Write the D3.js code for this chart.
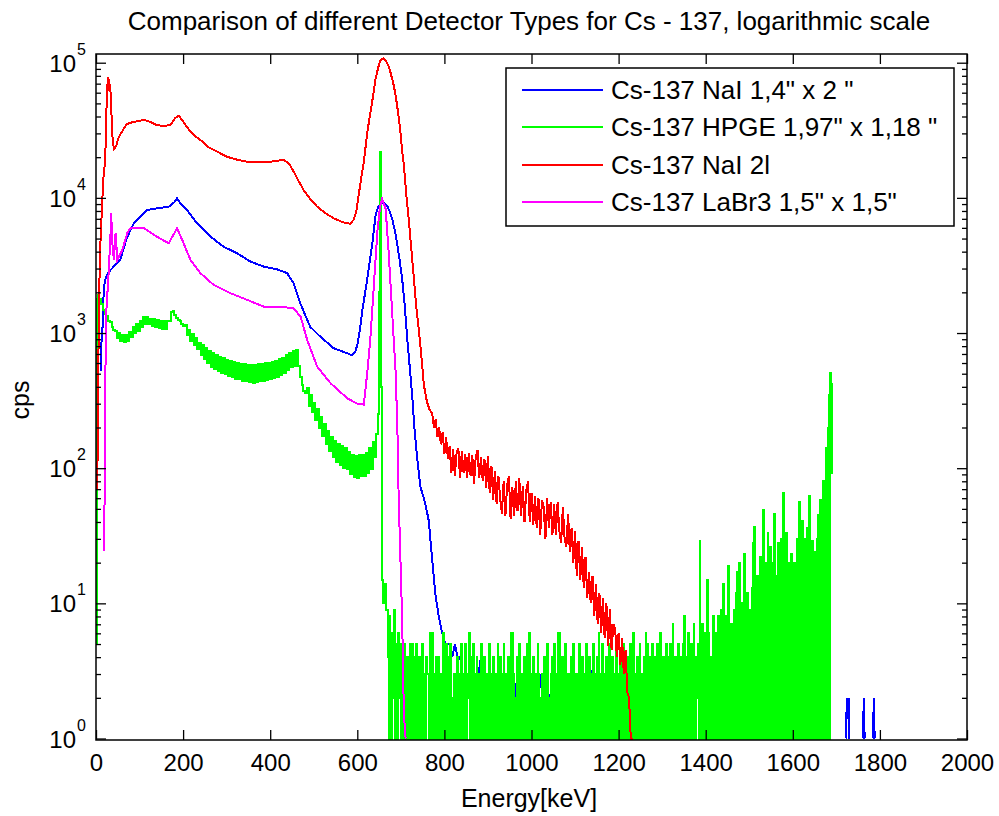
<!DOCTYPE html>
<html>
<head>
<meta charset="utf-8">
<script src="https://cdn.jsdelivr.net/npm/d3@7"></script>
<style>
  body { margin: 0; background: #ffffff; }
  text { font-family: "Liberation Sans", Arial, sans-serif; fill: #000; }
</style>
</head>
<body>
<div id="wrapper"></div>
<script>
// values (energy in keV, cps)
const seriesNames = ['Cs-137 NaI 1,4" x 2 "', 'Cs-137 HPGE 1,97" x 1,18 "', 'Cs-137 NaI 2l', 'Cs-137 LaBr3 1,5" x 1,5"'];
const xTicks = [0, 200, 400, 600, 800, 1000, 1200, 1400, 1600, 1800, 2000];
const yExponents = [0, 1, 2, 3, 4, 5];

// NaI 1,4" x 2"
const blueE = [9, 11.5, 13, 15, 17, 20, 25, 33, 45, 56, 64, 72, 87, 102, 117, 140, 167, 180, 186, 195, 209, 232, 263, 293, 324, 355, 385, 416, 439, 454, 469, 492, 515, 546, 577, 588, 595, 600, 606, 611, 617, 623, 628, 634, 642, 648, 653, 660, 668, 674, 680, 686, 691, 697, 703, 709, 714, 720, 726, 731, 737, 745, 756, 764, 772, 779, 787, 795, 802];
const blueCps = [530, 530, 1000, 1100, 1800, 2400, 2700, 2920, 3200, 3500, 4300, 5160, 6490, 7260, 8130, 8370, 8600, 9300, 9930, 9000, 8130, 6490, 5160, 4350, 3890, 3370, 3100, 2960, 2770, 2330, 1660, 1110, 940, 771, 708, 684, 720, 815, 1050, 1430, 1900, 2520, 3300, 4460, 7430, 8600, 9060, 9200, 8800, 8000, 7000, 5800, 4710, 3500, 2520, 1600, 962, 580, 346, 200, 122, 73, 55, 41, 21, 11.9, 8, 6, 5];
const blueTailStart = 806, blueTailStep = 6;
const blueTail = [5, 5, 4, 5, 4, 4, 3, 3, 2, 3, 3, 2, 3, 4, 2, 3, 3, 2, 3, 2,
  3, 2, 3, 3, 2, 3, 2, 3, 2, 2, 3, 2, 2, 3, 2, 2, 3, 2, 3, 2,
  2, 3, 2, 2, 3, 2, 2, 3, 2, 2, 2, 3, 2, 1, 4, 2, 4, 2, 3, 1,
  2, 2, 1, 2, 1, 3, 2, 0, 2, 1, 1, 2, 3, 1, 2, 1, 0, 2, 1, 3,
  1, 0, 2, 1, 0, 1, 2, 0, 4, 0, 2, 0, 1, 0, 0, 1, 0, 0, 0, 0];
const blueEndE = [1722, 1724, 1726, 1728, 1730, 1745, 1761, 1763, 1765, 1775, 1784, 1786, 1788];
const blueEndCps = [1, 2, 1.4, 2, 1, 0, 1, 2, 1, 0, 1, 2, 1];

// HPGE 1,97" x 1,18"
const greenHeadE = [0.5, 2];
const greenHeadCps = [5, 1800];
const greenMainStart = 4, greenMainStep = 4;
const greenMain = [1900, 1780, 1650, 1480, 1380, 1330, 1230, 1200, 1100, 1060,
  1030, 920, 1000, 880, 970, 860, 960, 880, 1010, 930,
  1110, 1000, 1160, 1040, 1230, 1100, 1310, 1170, 1320, 1160,
  1270, 1120, 1260, 1100, 1240, 1090, 1230, 1080, 1220, 1070,
  1220, 1230, 1420, 1460, 1370, 1300, 1250, 1220, 1160, 1120,
  1150, 970, 1060, 880, 990, 810, 920, 760, 850, 690,
  810, 640, 770, 600, 740, 565, 710, 545, 690, 525,
  670, 510, 650, 495, 630, 480, 620, 470, 610, 460,
  605, 455, 595, 445, 590, 440, 585, 435, 580, 430,
  585, 435, 590, 440, 590, 445, 600, 450, 605, 455,
  615, 465, 625, 475, 645, 490, 655, 510, 690, 530,
  710, 560, 735, 575, 750, 570, 470, 410, 370, 360,
  390, 290, 350, 260, 305, 228, 272, 200, 238, 172,
  212, 150, 190, 134, 170, 122, 158, 112, 150, 106,
  145, 100, 140, 98, 132, 90, 126, 86, 124, 85,
  126, 87, 125, 88, 130, 92, 140, 98, 156, 122,
  180, 250];
const greenPeakE = [650.5, 652, 653.5, 655, 656.5, 659, 661.5];
const greenPeakCps = [2000, 22000, 18000, 400, 15, 10, 12];
const greenTailStart = 664, greenTailStep = 2;
const greenTail = [14, 9, 9, 4, 1, 8, 3, 1, 6, 2, 9, 1, 5, 3, 1, 6, 2, 5, 1, 4,
  3, 1, 5, 2, 1, 4, 3, 1, 5, 1, 3, 5, 1, 4, 1, 5, 3, 1, 2, 4,
  1, 3, 5, 1, 2, 3, 1, 4, 3, 3, 1, 6, 1, 2, 6, 1, 3, 1, 4, 2,
  1, 4, 1, 3, 2, 1, 6, 3, 1, 2, 5, 1, 4, 1, 3, 5, 1, 2, 1, 3,
  3, 1, 2, 4, 1, 3, 1, 5, 2, 1, 3, 1, 5, 1, 2, 3, 6, 1, 4, 1,
  2, 5, 1, 3, 1, 4, 2, 1, 3, 1, 5, 3, 1, 2, 4, 1, 3, 1, 2, 5,
  1, 3, 2, 1, 4, 1, 3, 3, 1, 5, 1, 2, 4, 1, 3, 1, 5, 2, 1, 3,
  1, 4, 2, 1, 6, 1, 6, 3, 1, 2, 1, 4, 3, 1, 5, 2, 1, 3, 1, 4,
  2, 1, 3, 5, 1, 6, 1, 2, 3, 1, 4, 1, 3, 2, 1, 5, 3, 1, 2, 1,
  3, 1, 4, 2, 1, 3, 5, 1, 2, 1, 3, 4, 1, 2, 5, 1, 3, 1, 6, 1,
  6, 1, 2, 4, 1, 3, 1, 5, 2, 1, 3, 3, 1, 4, 1, 2, 5, 1, 3, 1,
  2, 3, 1, 5, 1, 2, 4, 1, 3, 1, 2, 5, 1, 3, 4, 1, 2, 1, 3, 5,
  1, 3, 1, 4, 2, 6, 1, 3, 1, 5, 2, 1, 3, 1, 4, 2, 1, 5, 3, 1,
  4, 1, 2, 3, 1, 5, 1, 3, 2, 1, 4, 3, 1, 5, 1, 2, 3, 1, 4, 2,
  1, 5, 3, 1, 2, 6, 1, 3, 1, 4, 2, 1, 5, 1, 3, 2, 1, 4, 1, 6,
  3, 5, 1, 2, 4, 1, 5, 3, 1, 2, 4, 1, 5, 2, 1, 3, 6, 1, 3, 4,
  1, 3, 5, 1, 4, 2, 1, 5, 3, 1, 7, 2, 1, 4, 3, 1, 5, 2, 1, 4,
  3, 1, 5, 8, 1, 4, 2, 1, 6, 3, 1, 5, 2, 1, 7, 3, 1, 4, 2, 5,
  1, 29, 3, 1, 7, 4, 1, 6, 2, 1, 15, 6, 1, 3, 4, 1, 8, 5, 1, 6,
  3, 1, 8, 5, 1, 9, 4, 1, 14, 6, 1, 8, 3, 1, 19, 7, 1, 7, 5, 1,
  9, 4, 1, 12, 17, 1, 20, 6, 1, 10, 5, 1, 23, 8, 1, 12, 6, 1, 9, 2,
  1, 13, 28, 1, 37, 10, 1, 16, 6, 1, 22, 12, 1, 15, 49, 1, 20, 8, 1, 33,
  18, 1, 26, 12, 1, 20, 46, 1, 16, 9, 1, 28, 20, 1, 14, 30, 1, 66, 24, 1,
  33, 16, 1, 12, 20, 1, 23, 9, 1, 20, 14, 1, 18, 30, 1, 56, 24, 1, 20, 41,
  1, 30, 11, 1, 36, 22, 1, 62, 25, 1, 29, 18, 1, 17, 24, 1, 30, 45, 1, 58,
  28, 1, 40, 80, 1, 60, 140, 1, 200, 350, 1, 510, 420, 90];

// NaI 2l
const redE = [3, 5, 8, 10, 14, 18, 21, 24, 26.5, 28.5, 30.5, 32.5, 35, 38, 41, 46, 52, 60, 70, 80, 95, 110, 125, 140, 160, 172, 182, 190, 198, 210, 225, 240, 260, 278, 300, 320, 347, 375, 401, 431, 443, 454, 466, 477, 492, 508, 527, 546, 562, 573, 584, 592, 598, 603, 609, 615, 623, 634, 642, 648, 653, 660, 665, 671, 676, 682, 688, 694, 699, 703, 707, 712, 718, 724, 730, 735, 741, 747, 753, 760, 766];
const redCps = [70, 500, 2500, 4500, 9000, 16000, 18000, 45000, 70000, 78000, 62000, 70000, 45000, 28000, 23000, 24000, 28000, 31000, 35000, 36000, 37000, 37700, 36500, 34500, 34000, 35000, 39000, 40500, 37500, 33000, 29000, 26800, 23500, 22000, 20200, 19300, 18500, 18500, 18500, 19100, 18000, 15600, 13200, 11400, 9800, 8600, 7700, 7060, 6700, 6500, 6450, 6900, 8000, 10400, 14000, 18400, 30700, 51000, 76000, 92000, 104000, 108000, 104000, 96000, 85000, 72000, 57400, 42000, 30700, 22000, 17500, 11000, 7000, 4200, 2520, 1600, 1080, 680, 410, 309, 270];
const redTailStart = 772, redTailStep = 4;
const redTail = [255, 200, 230, 170, 200, 150, 185, 128, 170, 118,
  145, 92, 138, 88, 130, 140, 84, 134, 92, 128,
  84, 130, 88, 126, 76, 122, 136, 84, 120, 80,
  116, 72, 124, 66, 104, 58, 96, 54, 88, 60,
  46, 80, 44, 74, 88, 42, 72, 44, 80, 48,
  84, 44, 74, 40, 68, 80, 40, 66, 38, 62,
  36, 60, 32, 58, 52, 30, 60, 36, 56, 32,
  54, 32, 56, 34, 28, 52, 30, 26, 46, 24,
  36, 20, 34, 16, 29, 15, 26, 13, 22, 11,
  17, 10, 16, 8, 14, 7, 12, 6, 11, 5.5,
  10, 4.8, 9, 4.5, 7, 6.5, 4, 6, 3.5, 5.5,
  3, 4.5, 2.2, 2, 1, 1];

// LaBr3 1,5" x 1,5"
const magentaE = [17, 19, 21, 24, 29, 33, 35, 37, 41, 45, 49, 60, 72, 79, 110, 140, 167, 186, 198, 217, 240, 270, 309, 347, 385, 424, 454, 470, 485, 508, 539, 577, 600, 615, 623, 630, 638, 646, 652, 657, 665, 672, 680, 688, 692, 695, 698, 703, 707, 711];
const magentaCps = [25, 25, 400, 1500, 2780, 5000, 7700, 4880, 3470, 5500, 3470, 4100, 5500, 5960, 5960, 5160, 4610, 5960, 4880, 3470, 2770, 2270, 1970, 1760, 1570, 1570, 1520, 1320, 888, 564, 424, 329, 300, 295, 515, 908, 2250, 5590, 8500, 9860, 8300, 3980, 1430, 515, 200, 60, 28, 7.5, 1.5, 1];

function fromPairs(es, vs) {
  return es.map((e, i) => ({ e: e, v: vs[i] }));
}
function fromStep(start, step, vs) {
  return vs.map((v, i) => ({ e: start + i * step, v: v }));
}

async function drawSpectrum() {
  // dense channel data (green) is drawn as steps, like the original raster
  const series = [
    { name: seriesNames[0], color: "#0000ff", curve: d3.curveLinear,
      data: [...fromPairs(blueE, blueCps), ...fromStep(blueTailStart, blueTailStep, blueTail), ...fromPairs(blueEndE, blueEndCps)] },
    { name: seriesNames[1], color: "#00ff00", curve: d3.curveStepAfter,
      data: [...fromPairs(greenHeadE, greenHeadCps), ...fromStep(greenMainStart, greenMainStep, greenMain), ...fromPairs(greenPeakE, greenPeakCps), ...fromStep(greenTailStart, greenTailStep, greenTail)] },
    { name: seriesNames[2], color: "#ff0000", curve: d3.curveLinear,
      data: [...fromPairs(redE, redCps), ...fromStep(redTailStart, redTailStep, redTail)] },
    { name: seriesNames[3], color: "#ff00ff", curve: d3.curveLinear,
      data: fromPairs(magentaE, magentaCps) },
  ];

  let dimensions = {
    width: 999,
    height: 816,
    margin: { top: 54, right: 32, bottom: 76, left: 96 },
  };
  dimensions.boundedWidth = dimensions.width - dimensions.margin.left - dimensions.margin.right;
  dimensions.boundedHeight = dimensions.height - dimensions.margin.top - dimensions.margin.bottom;

  const svg = d3.select("#wrapper").append("svg")
    .attr("width", dimensions.width)
    .attr("height", dimensions.height);

  const bounds = svg.append("g")
    .attr("transform", `translate(${dimensions.margin.left},${dimensions.margin.top})`);

  const xScale = d3.scaleLinear()
    .domain([0, 2000])
    .range([0, dimensions.boundedWidth]);
  const yScale = d3.scaleLog()
    .domain([0.975, 1.16e5])
    .range([dimensions.boundedHeight, 0]);

  bounds.append("clipPath").attr("id", "plot-clip")
    .append("rect")
    .attr("width", dimensions.boundedWidth)
    .attr("height", dimensions.boundedHeight);

  const lines = bounds.append("g").attr("clip-path", "url(#plot-clip)");
  series.forEach(s => {
    const lineGenerator = d3.line()
      .defined(d => d.v > 0)
      .curve(s.curve)
      .x(d => xScale(d.e))
      .y(d => yScale(d.v));
    lines.append("path")
      .attr("d", lineGenerator(s.data))
      .attr("fill", "none")
      .attr("stroke", s.color)
      .attr("stroke-width", 2)
      .attr("shape-rendering", "crispEdges");
  });

  // axes, ticks pointing inward on all four sides
  const majorY = yExponents.map(k => Math.pow(10, k));
  const minorY = [];
  for (let k = 0; k < 5; k++) {
    for (let m = 2; m <= 9; m++) minorY.push(m * Math.pow(10, k));
  }

  const xAxisBottom = d3.axisBottom(xScale).tickValues(xTicks).tickSizeInner(-10).tickSizeOuter(0).tickPadding(14).tickFormat(d3.format("d"));
  const xAxisTop = d3.axisTop(xScale).tickValues(xTicks).tickSizeInner(-10).tickSizeOuter(0).tickFormat("");
  const yAxisLeft = d3.axisLeft(yScale).tickValues(majorY).tickSizeInner(-10).tickSizeOuter(0).tickFormat("");
  const yAxisRight = d3.axisRight(yScale).tickValues(majorY).tickSizeInner(-10).tickSizeOuter(0).tickFormat("");
  const yMinorLeft = d3.axisLeft(yScale).tickValues(minorY).tickSizeInner(-5).tickSizeOuter(0).tickFormat("");
  const yMinorRight = d3.axisRight(yScale).tickValues(minorY).tickSizeInner(-5).tickSizeOuter(0).tickFormat("");

  const xAxis = bounds.append("g")
    .attr("transform", `translate(0,${dimensions.boundedHeight})`)
    .call(xAxisBottom);
  xAxis.selectAll("text").attr("font-size", 24).attr("font-family", "Liberation Sans, Arial, sans-serif");
  bounds.append("g").call(xAxisTop);
  bounds.append("g").call(yAxisLeft);
  bounds.append("g").call(yMinorLeft);
  bounds.append("g").attr("transform", `translate(${dimensions.boundedWidth},0)`).call(yAxisRight);
  bounds.append("g").attr("transform", `translate(${dimensions.boundedWidth},0)`).call(yMinorRight);
  bounds.selectAll(".domain").remove();
  bounds.selectAll(".tick line").attr("stroke", "#000").attr("stroke-width", 1.3);

  bounds.append("rect")
    .attr("width", dimensions.boundedWidth)
    .attr("height", dimensions.boundedHeight)
    .attr("fill", "none")
    .attr("stroke", "#000")
    .attr("stroke-width", 1.5);

  // y tick labels as 10^k
  const yLabels = bounds.append("g");
  yExponents.forEach(k => {
    const ty = yScale(Math.pow(10, k));
    yLabels.append("text")
      .attr("x", -20)
      .attr("y", ty + 9)
      .attr("text-anchor", "end")
      .attr("font-size", 24)
      .text("10");
    yLabels.append("text")
      .attr("x", -19)
      .attr("y", ty - 8)
      .attr("font-size", 16)
      .text(k);
  });

  // title and axis labels
  svg.append("text")
    .attr("x", 529)
    .attr("y", 30)
    .attr("text-anchor", "middle")
    .attr("font-size", 26)
    .text("Comparison of different Detector Types for Cs - 137, logarithmic scale");
  svg.append("text")
    .attr("x", 529)
    .attr("y", 807)
    .attr("text-anchor", "middle")
    .attr("font-size", 25)
    .text("Energy[keV]");
  svg.append("text")
    .attr("transform", "translate(29,400) rotate(-90)")
    .attr("text-anchor", "middle")
    .attr("font-size", 25)
    .text("cps");

  // legend
  const legend = svg.append("g").attr("transform", "translate(506,68)");
  legend.append("rect")
    .attr("width", 448)
    .attr("height", 158)
    .attr("fill", "#fff")
    .attr("stroke", "#000")
    .attr("stroke-width", 1.5);
  series.forEach((s, i) => {
    const ry = 22 + i * 37.4;
    legend.append("line")
      .attr("x1", 16).attr("x2", 97)
      .attr("y1", ry).attr("y2", ry)
      .attr("stroke", s.color)
      .attr("stroke-width", 2)
      .attr("shape-rendering", "crispEdges");
    legend.append("text")
      .attr("x", 105)
      .attr("y", ry + 9)
      .attr("font-size", 26)
      .text(s.name);
  });
}

drawSpectrum();
</script>
</body>
</html>
